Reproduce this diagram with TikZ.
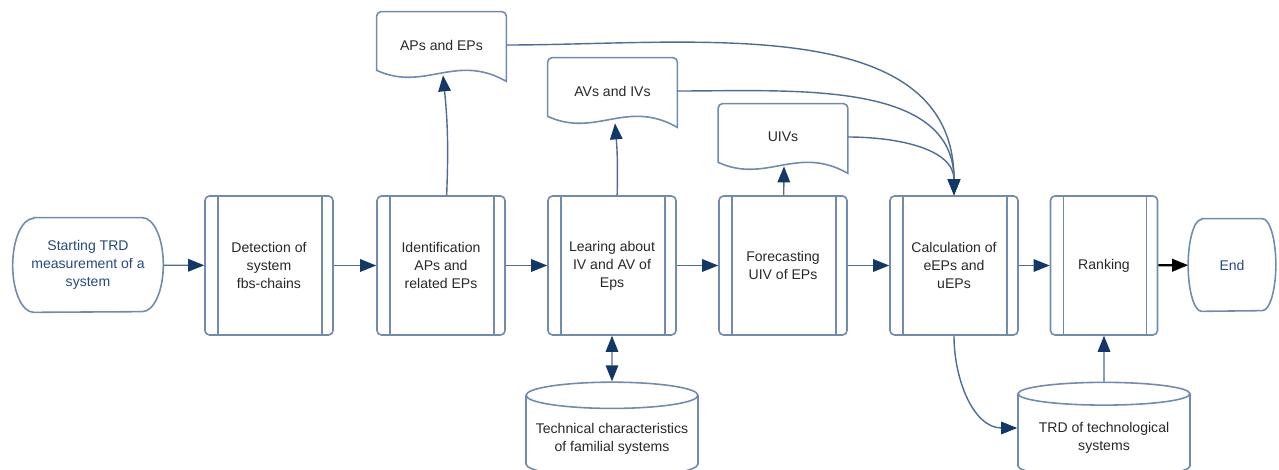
\documentclass[tikz,border=0pt]{standalone}
\usepackage{fontspec}
\setmainfont{Liberation Sans}
\usetikzlibrary{arrows.meta, shapes.geometric, calc}
\definecolor{FlowLine}{RGB}{112,138,176}
\definecolor{FlowWire}{RGB}{78,108,150}
\definecolor{FlowNavy}{RGB}{18,56,104}
\definecolor{FlowText}{RGB}{40,40,40}
\definecolor{FlowTerm}{RGB}{36,74,130}
\newcommand{\docshape}[1]{%
  \draw[draw=FlowLine, line width=0.9pt] ([shift={(0,-8)}]#1.south west)
    [rounded corners=2.5pt] -- (#1.north west) -- (#1.north east)
    [sharp corners] -- ([shift={(0,3)}]#1.south east)
    .. controls +(-51,-29) and +(48,22) .. ([shift={(0,-8)}]#1.south west) -- cycle;}
\newcommand{\termshape}[3]{%
  \draw[draw=FlowLine, line width=0.9pt] ([xshift=#2]#1.north west) -- ([xshift=-#2]#1.north east)
    arc[start angle=90, end angle=-90, x radius=#2, y radius=#3]
    -- ([xshift=#2]#1.south west)
    arc[start angle=270, end angle=90, x radius=#2, y radius=#3] -- cycle;}

\begin{document}
\begin{tikzpicture}[x=0.02cm, y=-0.02cm, font=\fontsize{8}{10.2}\selectfont, text=FlowText,
	pr/.style={rectangle, draw=FlowLine, line width=0.9pt, rounded corners=2.5pt,
		minimum width=2.56cm, minimum height=2.78cm, align=center,
		path picture={
			\draw[FlowLine, line width=0.9pt, sharp corners]
				([xshift=0.26cm]path picture bounding box.north west) --
				([xshift=0.26cm]path picture bounding box.south west)
				([xshift=-0.22cm]path picture bounding box.north east) --
				([xshift=-0.22cm]path picture bounding box.south east);}},
	term/.style={rectangle, text=FlowTerm, align=center},
	docu/.style={minimum width=2.58cm, minimum height=1.32cm, align=center},
	cyl/.style={cylinder, shape border rotate=90, aspect=0.16, draw=FlowLine,
		line width=0.9pt, minimum width=3.44cm, minimum height=1.9cm, align=center},
	fl/.style={-{Triangle[length=0.32cm, width=0.25cm, color=FlowNavy]}, FlowWire, line width=0.8pt},
	flb/.style={{Triangle[length=0.32cm, width=0.25cm, color=FlowNavy]}-{Triangle[length=0.32cm, width=0.25cm, color=FlowNavy]}, FlowWire, line width=0.8pt},
	flk/.style={-{Triangle[length=0.32cm, width=0.25cm]}, black, line width=1.2pt}]
	\useasboundingbox (0,0) rectangle (1279,470);
	\node[term, minimum width=3cm, minimum height=1.88cm] (start) at (88,265)
		{Starting TRD\\measurement of a\\system};
	\termshape{start}{0.42cm}{0.94cm}
	\node[pr] (det) at (269,265.5) {Detection of\\system\\fbs-chains};
	\node[pr] (ide) at (441,265.5) {Identification\\APs and\\related EPs};
	\node[pr] (lrn) at (612,265.5) {Learing about\\IV and AV of\\Eps};
	\node[pr] (frc) at (783,265.5) {Forecasting\\UIV of EPs};
	\node[pr] (clc) at (954,265.5) {Calculation of\\eEPs and\\uEPs};
	\node[pr, minimum width=2.14cm] (rnk) at (1104,265.5) {Ranking};
	\node[term, minimum width=1.74cm, minimum height=1.84cm] (end) at (1232,265) {End};
	\termshape{end}{0.27cm}{0.92cm}
	\node[docu] (ape) at (441.5,45) {APs and EPs};
	\node[docu] (avi) at (612.5,91) {AVs and IVs};
	\node[docu] (uiv) at (783,137) {UIVs};
	\docshape{ape}
	\docshape{avi}
	\docshape{uiv}
	\node[cyl] (tch) at (612,439) {Technical characteristics\\of familial systems};
	\node[cyl] (trd) at (1104,438) {TRD of technological\\systems};
	\draw[fl] (start) -- (det);
	\draw[fl] (det) -- (ide);
	\draw[fl] (ide) -- (lrn);
	\draw[fl] (lrn) -- (frc);
	\draw[fl] (frc) -- (clc);
	\draw[fl] (clc) -- (rnk);
	\draw[flk] (rnk) -- (end);
	\draw[fl] (ide) to[bend right=4] ([shift={(1.5,-3)}]ape.south);
	\draw[fl] (lrn) to[bend right=3] ([shift={(2.5,-1)}]avi.south);
	\draw[fl] (frc) -- ([shift={(1,-4)}]uiv.south);
	\draw[fl] (ape.east) to[out=0, in=90] (clc.north);
	\draw[fl] (avi.east) to[out=0, in=90] (clc.north);
	\draw[fl] (uiv.east) to[out=0, in=90] (clc.north);
	\draw[flb] (lrn) -- (tch);
	\draw[fl] (clc.south) to[out=-90, in=180] ([shift={(0,-10)}]trd.west);
	\draw[fl] (trd) -- (rnk);
\end{tikzpicture}
\end{document}
